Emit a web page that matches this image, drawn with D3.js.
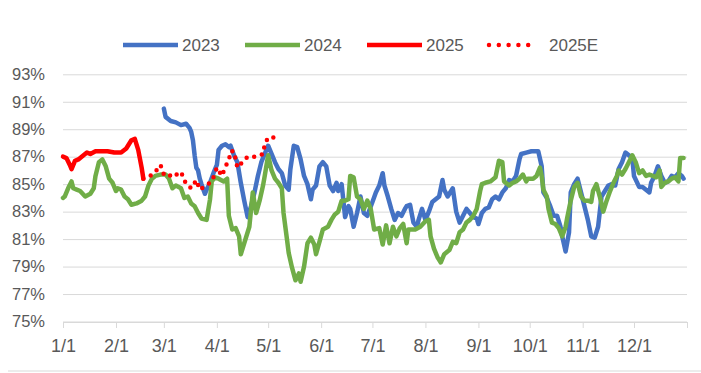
<!DOCTYPE html>
<html>
<head>
<meta charset="utf-8">
<script src="https://cdn.jsdelivr.net/npm/d3@7"></script>
<style>
  body { margin: 0; background: #fff; }
  text { font-family: "Liberation Sans", Arial, sans-serif; fill: #595959; }
</style>
</head>
<body>
<svg id="chart" width="701" height="373"></svg>
<script>
// each point is [day of year (0 = 1/1), utilisation %]
var s2023 = [[59,90.5],[60,89.9],[63,89.6],[66,89.5],[69,89.3],[72,89.4],[74,89.1],[75,88.8],[76,88.2],[77,87.1],[78,86.2],[79,86.0],[80,85.4],[81,85.0],[83,84.3],[84,84.6],[86,85.1],[88,85.8],[90,86.4],[91,87.5],[93,87.8],[95,87.9],[97,87.7],[98,87.8],[100,87.1],[102,86.6],[104,85.1],[106,83.8],[108,82.6],[110,83.4],[112,84.4],[114,85.6],[116,86.6],[118,87.2],[120,87.8],[122,87.2],[124,86.6],[126,86.1],[128,85.8],[130,84.9],[132,84.6],[133,86.1],[135,87.8],[137,87.7],[139,86.8],[141,85.6],[143,85.0],[145,83.9],[146,84.6],[148,84.9],[150,86.3],[152,86.6],[154,86.3],[156,84.9],[158,84.5],[160,85.1],[161,84.5],[163,85.0],[165,82.6],[167,83.4],[168,83.2],[170,81.9],[172,82.9],[174,84.1],[176,82.9],[178,82.7],[181,83.7],[183,84.4],[185,84.9],[187,85.8],[188,84.9],[190,84.1],[192,83.2],[194,82.4],[196,82.9],[198,82.7],[200,83.2],[201,83.4],[203,83.5],[205,82.2],[207,81.9],[208,82.4],[210,83.2],[212,82.4],[214,83.0],[216,83.7],[218,83.9],[220,84.1],[222,85.3],[223,84.6],[225,84.1],[228,84.7],[230,83.0],[232,82.2],[234,82.7],[236,83.2],[238,82.9],[240,82.6],[242,82.5],[243,82.1],[245,82.9],[247,83.2],[249,83.3],[251,83.9],[253,84.1],[255,83.9],[257,84.4],[259,84.7],[261,85.3],[263,85.2],[265,85.6],[267,86.8],[268,87.2],[271,87.3],[274,87.4],[278,87.4],[280,86.3],[281,84.4],[283,84.0],[285,83.4],[287,82.7],[289,82.7],[291,81.9],[292,81.2],[294,80.1],[295,80.8],[296,81.5],[297,84.4],[299,85.0],[301,85.4],[303,84.4],[305,83.4],[307,82.4],[309,81.2],[311,81.1],[313,81.9],[315,84.1],[317,84.5],[319,84.9],[321,85.0],[323,84.9],[325,86.1],[327,86.6],[329,87.3],[331,87.1],[333,86.9],[334,85.6],[337,84.8],[339,84.8],[341,84.6],[343,84.4],[344,85.1],[346,85.6],[348,86.3],[350,85.6],[352,85.1],[354,85.2],[356,85.6],[358,85.5],[360,85.8],[362,85.6],[363,85.4]];

var s2024 = [[0,84.0],[1,84.1],[3,84.7],[5,85.2],[6,84.7],[8,84.6],[10,84.5],[13,84.1],[16,84.3],[18,84.7],[19,85.6],[21,86.6],[23,86.8],[25,86.3],[27,85.4],[29,85.1],[31,84.5],[32,84.7],[34,84.6],[36,84.1],[38,83.9],[40,83.5],[43,83.6],[46,83.8],[48,84.1],[50,84.9],[52,85.4],[54,85.6],[57,85.7],[60,85.7],[62,85.4],[64,84.7],[66,84.9],[69,84.7],[71,84.0],[73,84.1],[75,83.6],[77,83.4],[79,82.9],[81,82.5],[84,82.4],[86,83.9],[87,85.2],[89,85.5],[91,85.4],[94,85.2],[96,85.4],[97,82.7],[99,81.7],[101,81.8],[103,81.2],[104,79.9],[106,80.7],[107,81.1],[109,81.9],[111,84.4],[113,82.9],[115,83.8],[117,84.9],[118,85.6],[120,87.1],[122,86.0],[124,85.4],[126,85.1],[128,84.7],[129,82.9],[131,81.0],[132,80.0],[134,78.9],[136,78.0],[138,78.5],[139,77.9],[141,79.0],[143,80.7],[145,81.1],[147,80.6],[148,79.9],[150,80.8],[152,81.7],[155,81.9],[157,82.4],[159,82.8],[161,83.0],[163,83.8],[165,83.8],[167,83.9],[168,85.6],[170,85.5],[172,84.1],[174,83.9],[176,83.2],[178,83.8],[180,83.2],[182,81.7],[185,81.8],[187,80.6],[189,82.0],[191,80.7],[193,81.9],[195,81.2],[197,81.8],[199,82.1],[201,80.7],[202,81.7],[204,81.7],[206,81.7],[209,81.9],[212,82.3],[214,82.4],[215,81.2],[217,80.3],[219,79.7],[221,79.3],[223,79.9],[226,80.2],[228,80.8],[230,80.7],[232,81.5],[234,81.7],[236,82.2],[238,82.4],[240,82.7],[242,83.2],[244,84.5],[245,85.0],[247,85.1],[250,85.2],[253,85.5],[255,86.7],[257,86.6],[258,85.2],[261,84.9],[263,85.1],[265,85.2],[267,85.4],[269,85.7],[271,85.2],[272,85.4],[275,85.4],[277,85.6],[279,86.2],[280,85.6],[281,84.6],[283,84.1],[284,83.2],[286,82.2],[288,82.1],[290,81.8],[292,81.2],[294,81.9],[295,82.6],[297,83.8],[299,84.8],[301,85.1],[303,84.1],[305,83.8],[307,83.8],[309,83.7],[310,84.5],[312,85.0],[314,84.1],[316,83.0],[318,83.8],[320,84.5],[322,85.1],[324,85.6],[325,86.0],[327,85.7],[329,86.1],[331,86.6],[333,87.1],[335,86.6],[337,85.8],[339,86.0],[341,85.6],[343,85.7],[345,85.6],[347,85.5],[349,86.0],[350,84.8],[352,85.1],[354,85.2],[356,85.4],[358,85.5],[360,85.2],[361,86.9],[363,86.9]];

var s2025 = [[0,87.0],[2,86.9],[4,86.4],[5,86.1],[7,86.7],[9,86.8],[12,87.1],[14,87.3],[16,87.2],[19,87.4],[26,87.4],[30,87.3],[34,87.3],[37,87.6],[40,88.2],[42,88.3],[44,87.5],[46,86.2],[47,85.4]];

var s2025E = [[47,85.4],[51,85.6],[54,85.9],[57,86.4],[59,85.7],[61,85.8],[64,85.5],[69,85.9],[72,85.0],[75,84.7],[78,85.3],[80,84.6],[86,85.1],[88,85.5],[90,86.2],[93,85.6],[95,86.3],[97,86.7],[98,87.4],[100,87.4],[101,86.8],[102,86.2],[105,86.6],[108,87.0],[113,87.0],[117,87.2],[118,87.9],[120,88.4],[126,88.4]];

var seriesNames = ["2023", "2024", "2025", "2025E"];
var seriesColors = ["#4472C4", "#70AD47", "#FF0000", "#FF0000"];
var yTicks = [75, 77, 79, 81, 83, 85, 87, 89, 91, 93];

var svg = d3.select("#chart");

// year used only to place month ticks on the axis (non-leap)
var baseYear = 2023;
function toDate(day) { return new Date(baseYear, 0, 1 + day); }

var x = d3.scaleTime()
    .domain([new Date(baseYear, 0, 1), new Date(baseYear + 1, 0, 1)])
    .range([63, 687]);

var y = d3.scaleLinear()
    .domain([75, 93])
    .range([321.5, 74.3]);

// gridlines + y labels
var yAxis = svg.append("g")
    .attr("transform", "translate(63,0)")
    .call(d3.axisLeft(y)
        .tickValues(yTicks)
        .tickSize(-624)
        .tickPadding(18)
        .tickFormat(d => d + "%"));
yAxis.select(".domain").remove();
yAxis.selectAll("line").attr("stroke", "#d9d9d9");
yAxis.selectAll("text").style("font-size", "16.5px").attr("fill", "#595959");

// month ticks, plus an unlabelled one at year end
var monthTicks = d3.timeMonth.range(new Date(baseYear, 0, 1), new Date(baseYear + 1, 0, 2));
var xAxis = svg.append("g")
    .attr("transform", "translate(0,322)")
    .call(d3.axisBottom(x)
        .tickValues(monthTicks)
        .tickSize(6)
        .tickSizeOuter(0)
        .tickPadding(11)
        .tickFormat(d => d.getFullYear() > baseYear ? "" : d3.timeFormat("%-m/%-d")(d)));
xAxis.select(".domain").attr("stroke", "#d9d9d9");
xAxis.selectAll("line").attr("stroke", "#d9d9d9");
xAxis.selectAll("text").style("font-size", "18px").attr("fill", "#595959");

var line = d3.line()
    .x(d => x(toDate(d[0])))
    .y(d => y(d[1]));

var allSeries = [s2023, s2024, s2025, s2025E];

svg.selectAll("path.series")
    .data(allSeries)
    .enter().append("path")
    .attr("class", "series")
    .attr("fill", "none")
    .attr("stroke", (d, i) => seriesColors[i])
    .attr("stroke-width", 4.5)
    .attr("stroke-linejoin", "round")
    .attr("stroke-linecap", "round")
    .attr("stroke-dasharray", (d, i) => i == 3 ? "0 8" : null)
    .attr("d", line);

// legend
var legendX = [123, 245, 367, 489];
var legend = svg.selectAll("g.legend")
    .data(seriesNames)
    .enter().append("g")
    .attr("class", "legend")
    .attr("transform", (d, i) => "translate(" + legendX[i] + ",45)");

legend.append("line")
    .attr("x1", 0).attr("x2", (d, i) => i == 3 ? 49 : 55)
    .attr("stroke", (d, i) => seriesColors[i])
    .attr("stroke-width", (d, i) => i == 3 ? 4.5 : 4.5)
    .attr("stroke-linecap", (d, i) => i == 3 ? "round" : "butt")
    .attr("stroke-dasharray", (d, i) => i == 3 ? "0 9.8" : null);

legend.append("text")
    .attr("x", (d, i) => i == 3 ? 60 : 59)
    .attr("dy", "0.35em")
    .style("font-size", "17px")
    .text(d => d);

// thin rule under the chart
svg.append("line")
    .attr("x1", 8).attr("x2", 701)
    .attr("y1", 371).attr("y2", 371)
    .attr("stroke", "#d9d9d9");
</script>
</body>
</html>
